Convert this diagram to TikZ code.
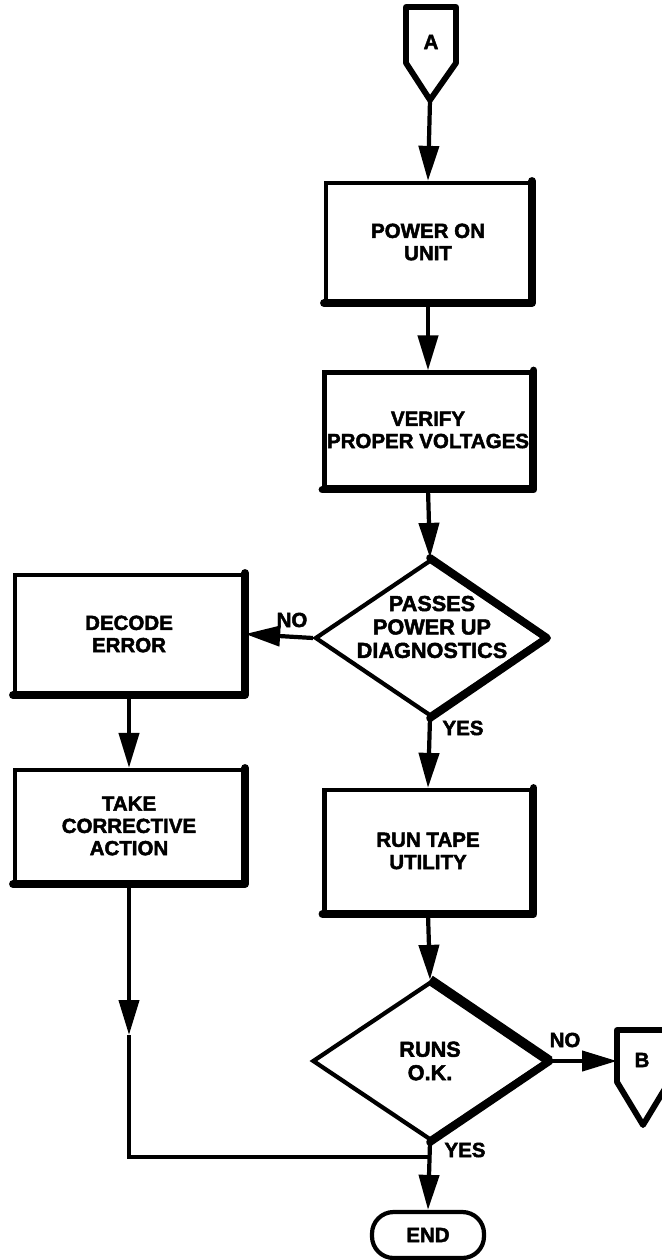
\documentclass[tikz,border=0pt]{standalone}
\usepackage{fontspec}
\setmainfont{Liberation Sans}[BoldFeatures={FakeBold=2.2}]
\usetikzlibrary{arrows.meta,shapes.geometric}
\newcommand\flowfont{\fontsize{17.5}{19}\selectfont\bfseries}
\newcommand\diafont{\fontsize{18.5}{20}\selectfont\bfseries}
\begin{document}
\begin{tikzpicture}[x=0.03cm,y=-0.03cm,
  box/.style={draw, line width=3.6pt, inner sep=0pt, align=center, font=\flowfont},
  dia/.style={diamond, draw, line width=3.6pt, inner sep=0pt},
  txt/.style={align=center, font=\diafont, inner sep=0pt},
  lbl/.style={font=\flowfont, inner sep=0pt},
  heavy/.style={line width=6.5pt, line cap=round, line join=round},
  conn/.style={line width=3.6pt, -{Triangle[length=1.05cm,width=0.6cm]}},
  wire/.style={line width=3.6pt, line join=miter}]
\useasboundingbox (0,0) rectangle (661,1260);

% connector A
\draw[line width=5pt, line join=round] (406,7) -- (456,7) -- (456,63) -- (430,100) -- (406,63) -- cycle;
\node[lbl] (A) at (431,42) {A};
\coordinate (Aout) at (430,100);

% boxes
\node[box, minimum width=6.12cm, minimum height=3.54cm] (b1) at (428,242) {POWER ON\\UNIT};
\node[box, minimum width=6.21cm, minimum height=3.45cm] (b2) at (428,430) {VERIFY\\PROPER VOLTAGES};
\node[dia, minimum width=6.9cm, minimum height=4.68cm] (d1) at (430,638) {};
\node[txt] (d1t) at (432,627) {PASSES\\POWER UP\\DIAGNOSTICS};
\node[box, minimum width=6.84cm, minimum height=3.54cm] (dec) at (129,634) {DECODE\\ERROR};
\node[box, minimum width=6.84cm, minimum height=3.36cm] (take) at (129,826) {TAKE\\CORRECTIVE\\ACTION};
\node[box, minimum width=6.21cm, minimum height=3.66cm] (b3) at (428,851) {RUN TAPE\\UTILITY};
\node[dia, minimum width=7.05cm, minimum height=4.74cm] (d2) at (430,1061) {};
\node[txt] (d2t) at (430,1061) {RUNS\\O.K.};
\node[box, rounded corners=0.65cm, minimum width=3.36cm, minimum height=1.38cm] (end) at (428,1235) {END};

% heavy shadow edges
\draw[heavy] (b1.south west) -- (b1.south east) -- (b1.north east);
\draw[heavy] (b2.south west) -- (b2.south east) -- (b2.north east);
\draw[heavy] (b3.south west) -- (b3.south east) -- (b3.north east);
\draw[heavy] (dec.south west) -- (dec.south east) -- (dec.north east);
\draw[heavy] (take.south west) -- (take.south east) -- (take.north east);
\draw[heavy] (d1.north) -- (d1.east) -- (d1.south);
\draw[line width=8.5pt, line join=round] (d2.north) -- (d2.east);
\draw[heavy] (d2.east) -- (d2.south);

% connector B
\draw[line width=5pt, line join=round] (617,1030) -- (669,1030) -- (669,1082) -- (643,1125) -- (617,1082) -- cycle;
\node[lbl] (B) at (642,1060) {B};
\coordinate (Bin) at (617,1061);

% connectors
\draw[conn] (Aout) -- (b1.north);
\draw[conn] (b1.south) -- (b2.north);
\draw[conn] (b2.south) -- (d1.north);
\draw[conn] (d1.west) -- (dec.east);
\draw[conn] (dec.south) -- (take.north);
\draw[conn] (d1.south) -- (b3.north);
\draw[conn] (b3.south) -- (d2.north);
\draw[conn] (d2.east) -- (Bin);
\coordinate (mid) at (129,1035);
\coordinate (ret) at (129,1157);
\coordinate (join) at (430,1157);
\draw[conn] (take.south) -- (mid);
\draw[wire] (mid) -- (ret) -- (join);
\draw[conn] (d2.south) -- (end.north);

% labels
\node[lbl] (no1) at (292,620) {NO};
\node[lbl] (yes1) at (463,728) {YES};
\node[lbl] (no2) at (565,1040) {NO};
\node[lbl] (yes2) at (465,1150) {YES};
\end{tikzpicture}
\end{document}
